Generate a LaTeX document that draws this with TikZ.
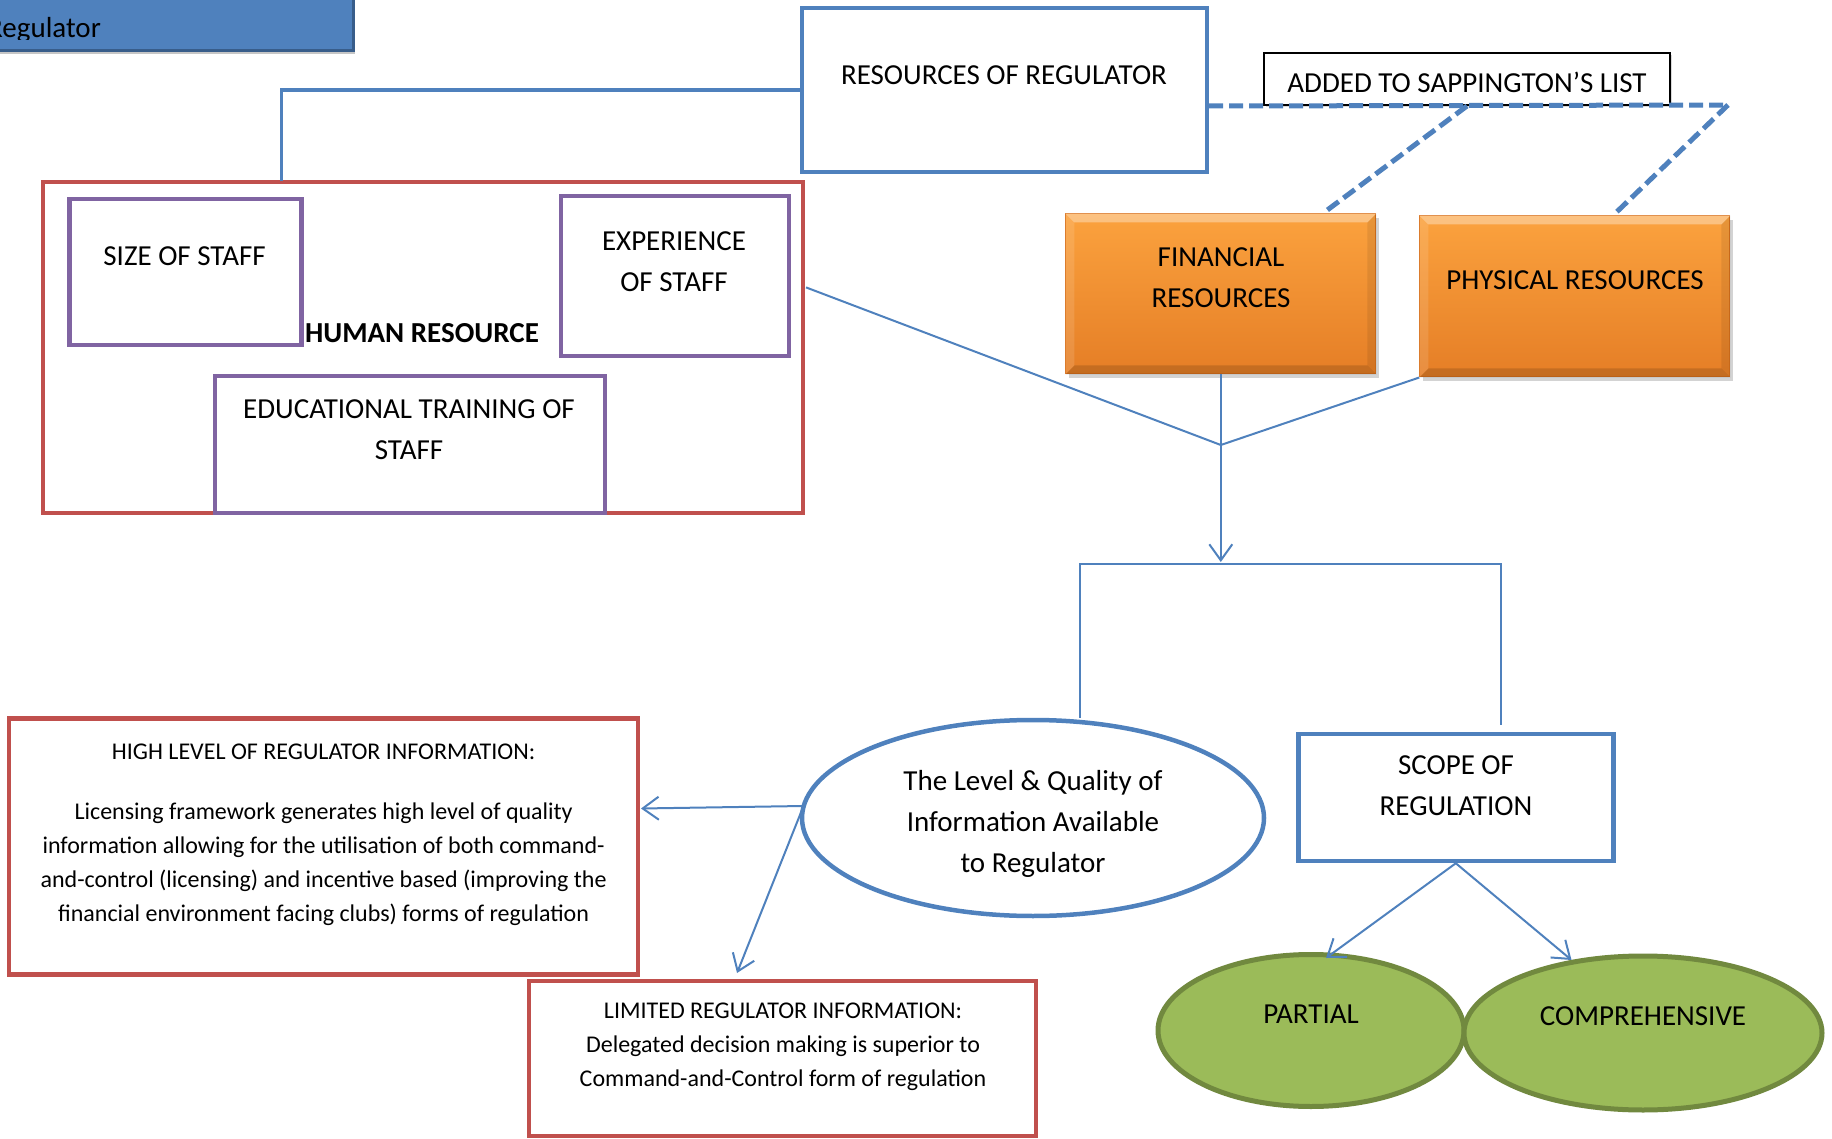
\documentclass[tikz,border=0pt]{standalone}
\usepackage{fontspec}
\setmainfont{Carlito}
\usetikzlibrary{arrows.meta,shapes.geometric,shadows}

\definecolor{accblue}{HTML}{4F81BD}
\definecolor{darkblue}{HTML}{385D8A}
\definecolor{accred}{HTML}{C0504D}
\definecolor{accpurple}{HTML}{8064A2}
\definecolor{accgreen}{HTML}{9BBB59}
\definecolor{darkgreen}{HTML}{71893F}
\definecolor{orangetop}{HTML}{FBA23E}
\definecolor{orangebot}{HTML}{E57E26}
\definecolor{orangeedge}{HTML}{D9711C}

\tikzset{
  bigtext/.style={font=\fontsize{29}{41}\selectfont, align=center, inner sep=0pt},
  smalltext/.style={font=\fontsize{24}{34}\selectfont, align=center, inner sep=0pt},
  bluefr/.style={draw=accblue, line width=4.5pt},
  redfr/.style={draw=accred, line width=4.5pt},
  purplefr/.style={draw=accpurple, line width=4.5pt},
  orangebox/.style={rectangle, inner sep=0pt, draw=orangeedge, line width=1pt,
    top color=orangetop, bottom color=orangebot,
    drop shadow={shadow xshift=3pt, shadow yshift=-4pt, opacity=0.35}},
  greenell/.style={ellipse, inner sep=0pt, draw=darkgreen, fill=accgreen, line width=5pt},
  link/.style={draw=accblue, line width=2pt},
  dashlink/.style={draw=accblue, line width=5pt, dash pattern=on 14pt off 6pt},
  tip/.style={-{Straight Barb[length=16pt,width=23pt,line width=2pt]}, link},
}

% bevelled rim of an orange box
\newcommand\bevelrim[1]{%
  \fill[white, opacity=0.35] (#1.north west) -- (#1.north east)
    -- ([xshift=-9pt,yshift=-9pt]#1.north east) -- ([xshift=9pt,yshift=-9pt]#1.north west) -- cycle;
  \fill[white, opacity=0.12] (#1.north west) -- ([xshift=9pt,yshift=-9pt]#1.north west)
    -- ([xshift=9pt,yshift=9pt]#1.south west) -- (#1.south west) -- cycle;
  \fill[black, opacity=0.08] (#1.north east) -- ([xshift=-9pt,yshift=-9pt]#1.north east)
    -- ([xshift=-9pt,yshift=9pt]#1.south east) -- (#1.south east) -- cycle;
  \fill[black, opacity=0.14] (#1.south west) -- ([xshift=9pt,yshift=9pt]#1.south west)
    -- ([xshift=-9pt,yshift=9pt]#1.south east) -- (#1.south east) -- cycle;
}

\begin{document}
\begin{tikzpicture}[x=1pt,y=-1pt]
\useasboundingbox (0,0) rectangle (1832,1139);
\clip (0,0) rectangle (1832,1139);

% title tab, partly outside the page
\node[rectangle, inner sep=0pt, minimum width=363pt, minimum height=61pt,
      fill=accblue, draw=darkblue, line width=3pt,
      drop shadow={shadow xshift=2pt, shadow yshift=-3pt, opacity=0.45}] (reg) at (171.5,20.5) {};
\begin{scope}
  \clip (0,0) rectangle (353,40);
  \node[font=\fontsize{29}{41}\selectfont, inner sep=0pt, anchor=base west] (regtxt) at (-13,37.5) {Regulator};
\end{scope}

% resources of the regulator
\node[rectangle, inner sep=0pt, minimum width=405pt, minimum height=164pt, bluefr] (res) at (1004.25,90) {};
\node[bigtext] (restxt) at (1004,75) {RESOURCES OF REGULATOR};

\node[rectangle, inner sep=0pt, minimum width=406pt, minimum height=52pt, draw=black, line width=2pt, fill=white,
      drop shadow={shadow xshift=2pt, shadow yshift=-2pt, opacity=0.3}] (added) at (1467,79) {};
\node[bigtext] (addedtxt) at (1467,82) {ADDED TO SAPPINGTON’S LIST};

% financial and physical resources
\node[orangebox, minimum width=310pt, minimum height=160pt] (fin) at (1220.8,294) {};
\bevelrim{fin}
\node[bigtext] (fintxt) at (1221,277.5) {FINANCIAL\\RESOURCES};
\node[orangebox, minimum width=310pt, minimum height=161pt] (phys) at (1574.8,296.5) {};
\bevelrim{phys}
\node[bigtext] (phystxt) at (1575,280) {PHYSICAL RESOURCES};

% human resource group
\node[rectangle, inner sep=0pt, minimum width=760pt, minimum height=331pt, redfr] (hr) at (423,347.5) {};
\node[rectangle, inner sep=0pt, minimum width=232pt, minimum height=146pt, purplefr] (size) at (185.25,272) {};
\node[bigtext] (sizetxt) at (184.6,256) {SIZE OF STAFF};
\node[rectangle, inner sep=0pt, minimum width=228pt, minimum height=160pt, purplefr] (exp) at (675,276) {};
\node[bigtext] (exptxt) at (674,261.5) {EXPERIENCE\\OF STAFF};
\node[rectangle, inner sep=0pt, minimum width=390pt, minimum height=137pt, purplefr] (edu) at (410,444.5) {};
\node[bigtext] (edutxt) at (409,429.5) {EDUCATIONAL TRAINING OF\\STAFF};
\node[bigtext, font=\fontsize{29}{41}\selectfont\bfseries] (hrtxt) at (422,333) {HUMAN RESOURCE};

% information and scope
\node[ellipse, inner sep=0pt, minimum width=462pt, minimum height=196pt, bluefr] (info) at (1033,818) {};
\node[bigtext] (infotxt) at (1033,824)
  {The Level \& Quality of\\Information Available\\to Regulator};
\node[rectangle, inner sep=0pt, minimum width=315pt, minimum height=127pt, bluefr] (scope) at (1455.8,797.5) {};
\node[bigtext] (scopetxt) at (1456,785.5) {SCOPE OF\\REGULATION};

\node[greenell, minimum width=306pt, minimum height=152pt] (partial) at (1311,1030.5) {};
\node[bigtext] (partialtxt) at (1311,1014) {PARTIAL};
\node[greenell, minimum width=358pt, minimum height=154pt] (comp) at (1643,1033) {};
\node[bigtext] (comptxt) at (1643,1016.5) {COMPREHENSIVE};

% outcome boxes
\node[rectangle, inner sep=0pt, minimum width=629pt, minimum height=256pt, redfr] (high) at (323.5,846.5) {};
\node[smalltext] (hightitle) at (323.6,752) {HIGH LEVEL OF REGULATOR INFORMATION:};
\node[smalltext] (highbody) at (323.6,864.5) {Licensing framework generates high level of quality\\
  information allowing for the utilisation of both command-\\
  and-control (licensing) and incentive based (improving the\\
  financial environment facing clubs) forms of regulation};
\node[rectangle, inner sep=0pt, minimum width=507pt, minimum height=155pt, redfr] (limited) at (782.5,1058.5) {};
\node[smalltext] (limitedtxt) at (783,1046.5) {LIMITED REGULATOR INFORMATION:\\
  Delegated decision making is superior to\\Command-and-Control form of regulation};

% connector end points
\coordinate (hrtop) at (281.6,181);
\coordinate (dashR) at (1728,105);
\coordinate (finhook) at (1326,211);
\coordinate (physhook) at (1613.5,215);
\coordinate (hrout) at (806,287.4);
\coordinate (jn) at (1220.8,445);
\coordinate (jnend) at (1220.8,562);
\coordinate (brL) at (1079.6,564);
\coordinate (brR) at (1501,564);
\coordinate (brRend) at (1501,724.5);
\coordinate (iw) at (803.5,806);
\coordinate (highin) at (641,808.5);
\coordinate (limin) at (737,973);
\coordinate (partin) at (1326,958);
\coordinate (compin) at (1571.5,960);

% connectors
\draw[draw=accblue, line width=3.5pt] (res.west) -| (hrtop);
\draw[dashlink] (res.east |- added.south) -- (dashR);
\draw[dashlink] (added.south) -- (finhook);
\draw[dashlink] (dashR) -- (physhook);

\draw[link] (hrout) -- (jn);
\draw[link] (fin.south) -- (jn);
\draw[link] (phys.south west) -- (jn);
\draw[tip] (jn) -- (jnend);
\draw[link] (brL |- info.north) -- (brL) -- (brR) -- (brRend);

\draw[tip] (iw) -- (highin);
\draw[tip] (iw) -- (limin);
\draw[tip] (scope.south) -- (partin);
\draw[tip] (scope.south) -- (compin);
\end{tikzpicture}
\end{document}
